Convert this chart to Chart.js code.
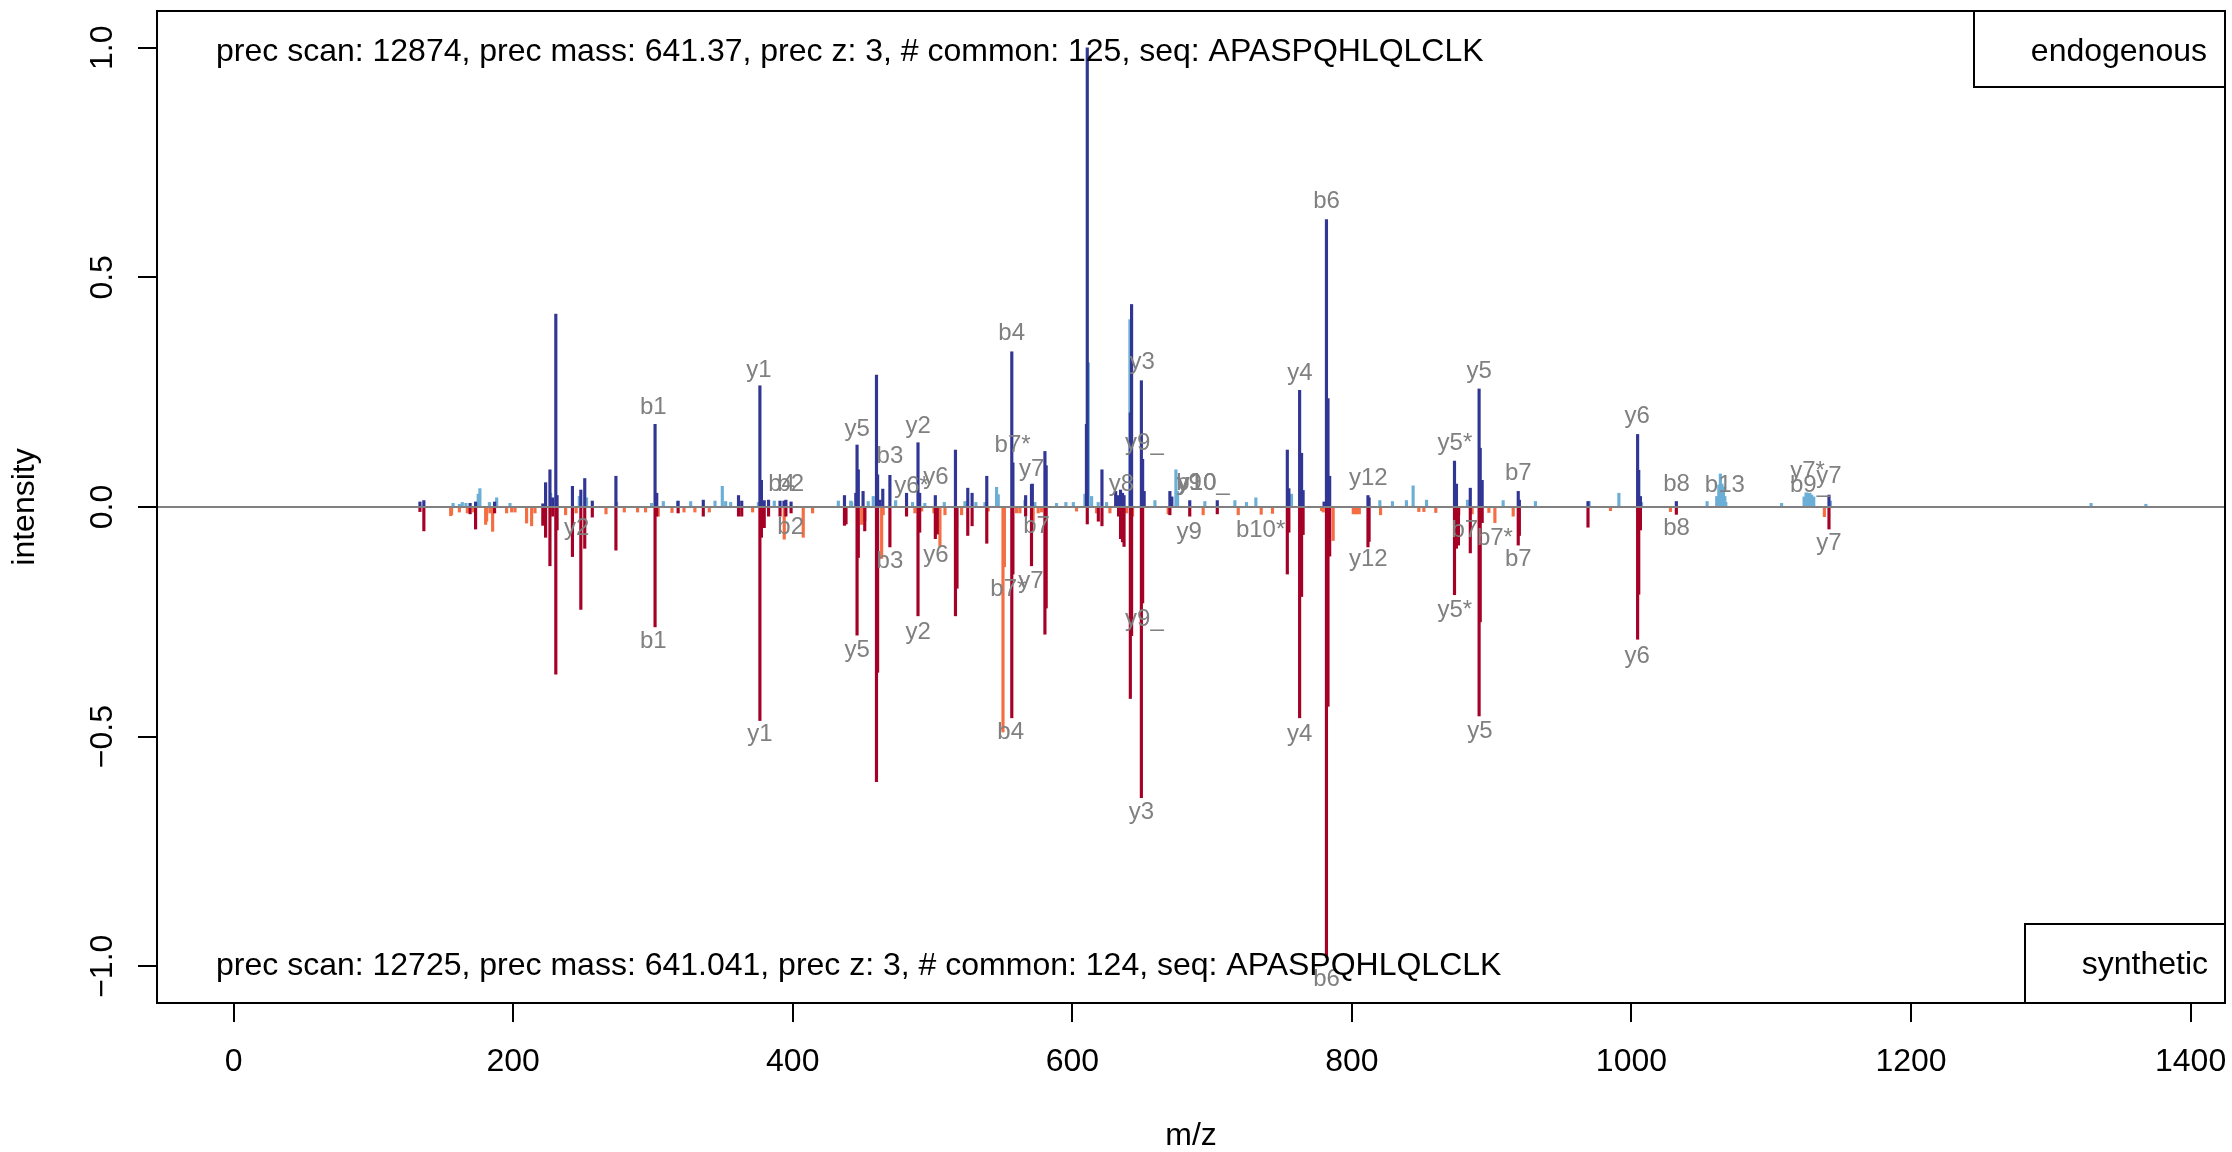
<!DOCTYPE html>
<html>
<head>
<meta charset="utf-8">
<script src="https://cdn.jsdelivr.net/npm/chart.js@4.4.1/dist/chart.umd.min.js"></script>
<style>
  html, body { margin: 0; padding: 0; background: #ffffff; }
  #wrap { width: 2232px; height: 1152px; }
</style>
</head>
<body>
<div id="wrap"><canvas id="c" width="2232" height="1152"></canvas></div>
<script>
// ---------------- data (m/z, relative intensity) ----------------
const endoMatched = [[133.3,0.011],[136.1,0.014],[169.2,0.008],[173.1,0.011],[186.7,0.011],[221.2,0.007],[223.2,0.053],[226.3,0.081],[228.3,0.02],[230.5,0.42],[231.4,0.025],[242.4,0.045],[248.4,0.037],[251.2,0.062],[256.6,0.013],[273.5,0.067],[301.5,0.18],[302.7,0.03],[318.0,0.013],[336.0,0.015],[361.2,0.025],[363.5,0.013],[376.5,0.264],[377.6,0.058],[379.6,0.014],[382.7,0.015],[390.9,0.013],[393.7,0.013],[395.1,0.015],[398.8,0.011],[437.0,0.025],[445.1,0.03],[446.0,0.135],[446.9,0.081],[450.3,0.034],[459.9,0.287],[460.7,0.07],[462.4,0.015],[464.4,0.039],[469.5,0.069],[481.4,0.03],[489.6,0.14],[490.8,0.03],[502.0,0.025],[516.4,0.124],[525.2,0.041],[528.3,0.03],[538.8,0.067],[556.7,0.338],[557.5,0.096],[566.6,0.025],[570.8,0.049],[571.4,0.05],[580.4,0.121],[581.3,0.09],[610.1,0.18],[610.7,1.0],[621.2,0.081],[631.0,0.034],[633.1,0.025],[634.5,0.037],[635.9,0.03],[637.0,0.025],[641.5,0.205],[642.4,0.441],[649.4,0.275],[650.3,0.104],[651.4,0.034],[669.8,0.034],[671.2,0.022],[684.0,0.014],[703.7,0.014],[753.8,0.124],[754.9,0.04],[762.6,0.254],[764.0,0.117],[765.1,0.036],[780.1,0.011],[781.8,0.626],[782.9,0.236],[784.1,0.067],[811.5,0.025],[812.3,0.02],[873.4,0.1],[874.8,0.05],[884.7,0.041],[891.0,0.257],[891.8,0.128],[893.2,0.058],[919.0,0.034],[919.8,0.015],[968.9,0.012],[1004.4,0.158],[1005.2,0.08],[1006.4,0.023],[1032.1,0.012],[1141.3,0.026]];

const endoOther = [[157.0,0.008],[161.5,0.006],[163.6,0.01],[166.2,0.008],[175.0,0.028],[176.2,0.04],[183.0,0.01],[188.2,0.02],[197.7,0.008],[226.8,0.03],[247.3,0.023],[252.5,0.02],[274.0,0.01],[299.0,0.008],[307.4,0.012],[317.6,0.012],[327.0,0.012],[344.4,0.013],[349.6,0.045],[352.0,0.012],[355.6,0.01],[375.4,0.01],[386.8,0.013],[432.6,0.013],[441.5,0.013],[442.1,0.011],[454.0,0.012],[457.6,0.023],[473.6,0.014],[485.7,0.01],[494.5,0.008],[508.4,0.01],[523.2,0.012],[531.0,0.01],[537.5,0.01],[545.8,0.043],[547.0,0.027],[566.1,0.014],[573.2,0.01],[588.7,0.008],[595.4,0.01],[600.7,0.01],[609.0,0.028],[611.4,0.314],[613.8,0.023],[618.5,0.01],[624.5,0.01],[632.8,0.016],[641.2,0.408],[659.1,0.014],[674.1,0.081],[675.3,0.034],[694.8,0.012],[716.3,0.014],[724.6,0.01],[731.3,0.02],[756.8,0.028],[820.0,0.014],[829.0,0.012],[839.0,0.014],[843.8,0.046],[853.4,0.015],[882.7,0.015],[908.2,0.014],[931.3,0.012],[969.7,0.012],[991.0,0.03],[1007.2,0.01],[1054.1,0.012],[1061.0,0.023],[1062.5,0.048],[1063.6,0.072],[1064.7,0.05],[1065.8,0.044],[1066.8,0.023],[1067.5,0.01],[1107.4,0.008],[1123.5,0.022],[1124.9,0.031],[1126.2,0.03],[1127.6,0.03],[1128.9,0.026],[1130.4,0.022],[1142.3,0.013],[1328.8,0.008],[1368.0,0.006]];

const synthMatched = [[133.3,-0.01],[136.1,-0.052],[169.2,-0.015],[173.1,-0.048],[186.7,-0.013],[221.2,-0.04],[223.2,-0.066],[226.3,-0.128],[228.3,-0.02],[230.5,-0.364],[231.4,-0.05],[242.4,-0.108],[248.4,-0.223],[251.2,-0.09],[256.6,-0.022],[273.5,-0.094],[301.5,-0.261],[302.7,-0.02],[318.0,-0.013],[336.0,-0.02],[361.2,-0.02],[363.5,-0.02],[376.5,-0.465],[377.6,-0.066],[379.6,-0.045],[382.7,-0.02],[390.9,-0.02],[395.1,-0.02],[398.8,-0.013],[437.0,-0.04],[438.1,-0.037],[446.0,-0.279],[446.9,-0.11],[451.5,-0.052],[459.9,-0.598],[460.7,-0.36],[469.5,-0.087],[481.4,-0.02],[489.6,-0.237],[490.8,-0.055],[502.0,-0.069],[503.4,-0.059],[516.4,-0.237],[517.5,-0.177],[525.2,-0.062],[528.3,-0.041],[538.8,-0.079],[556.7,-0.459],[557.5,-0.146],[566.6,-0.02],[570.8,-0.128],[580.4,-0.277],[581.3,-0.22],[610.7,-0.037],[618.6,-0.031],[621.2,-0.041],[633.1,-0.02],[634.5,-0.069],[635.9,-0.076],[637.0,-0.086],[641.5,-0.417],[642.4,-0.28],[649.4,-0.633],[650.3,-0.209],[669.8,-0.017],[684.0,-0.02],[703.7,-0.015],[753.8,-0.146],[754.9,-0.055],[762.6,-0.459],[764.0,-0.195],[765.1,-0.06],[781.8,-0.98],[782.9,-0.434],[784.1,-0.107],[811.5,-0.087],[812.3,-0.075],[873.4,-0.191],[874.8,-0.09],[876.2,-0.083],[884.7,-0.1],[891.0,-0.455],[891.8,-0.25],[893.2,-0.034],[919.0,-0.083],[919.8,-0.062],[968.9,-0.044],[1004.4,-0.288],[1005.2,-0.19],[1006.4,-0.05],[1032.1,-0.016],[1141.3,-0.048]];

const synthOther = [[155.3,-0.019],[155.9,-0.017],[161.5,-0.011],[167.2,-0.013],[167.9,-0.008],[171.5,-0.011],[180.3,-0.038],[181.0,-0.031],[183.4,-0.013],[185.3,-0.053],[195.3,-0.013],[198.9,-0.011],[201.3,-0.011],[209.6,-0.035],[213.2,-0.041],[215.6,-0.013],[237.5,-0.017],[245.0,-0.013],[266.4,-0.015],[279.5,-0.011],[289.0,-0.011],[294.7,-0.011],[303.8,-0.02],[313.6,-0.012],[322.2,-0.011],[330.0,-0.011],[340.3,-0.011],[371.3,-0.011],[378.4,-0.031],[393.9,-0.07],[407.5,-0.066],[414.2,-0.013],[449.3,-0.038],[451.6,-0.03],[463.6,-0.112],[464.7,-0.017],[487.4,-0.013],[492.2,-0.009],[501.0,-0.013],[505.3,-0.086],[508.9,-0.017],[517.2,-0.046],[520.8,-0.017],[539.8,-0.009],[550.4,-0.49],[551.4,-0.13],[560.1,-0.013],[562.5,-0.013],[572.0,-0.03],[575.6,-0.013],[578.0,-0.011],[603.0,-0.009],[617.3,-0.013],[626.9,-0.013],[638.8,-0.013],[643.1,-0.02],[668.6,-0.015],[693.6,-0.017],[718.7,-0.017],[735.1,-0.016],[743.2,-0.014],[778.3,-0.008],[779.5,-0.011],[786.6,-0.073],[801.0,-0.015],[802.5,-0.015],[804.0,-0.015],[805.3,-0.015],[820.5,-0.017],[847.9,-0.01],[851.5,-0.01],[860.0,-0.012],[876.5,-0.017],[886.0,-0.015],[898.0,-0.012],[902.3,-0.034],[915.4,-0.02],[985.0,-0.008],[1027.9,-0.01],[1138.0,-0.021]];

// fragment labels: [text, m/z of label centre, intensity of label centre]
const peakLabels = [["b1",300.2,0.217],["y1",375.8,0.298],["b4",392.0,0.050],["b2",398.5,0.050],["y5",446.1,0.170],["b3",469.5,0.110],["y2",489.8,0.175],["y6*",485.0,0.044],["y6",502.4,0.065],["b4",556.6,0.377],["b7*",557.3,0.134],["y7",570.9,0.083],["y8",635.2,0.050],["y3",650.0,0.315],["y9_",651.6,0.139],["y9",683.6,0.052],["y10",689.3,0.052],["b10_",693.5,0.052],["y4",762.8,0.290],["b6",781.9,0.665],["y12",811.7,0.0625],["y5*",873.7,0.139],["y5",891.1,0.295],["b7",919.0,0.073],["y6",1004.1,0.197],["b8",1032.3,0.049],["b13",1066.8,0.048],["y7*",1126.0,0.077],["b9_",1127.7,0.048],["y7",1141.3,0.066],
["y2",245.4,-0.046],["b1",300.2,-0.293],["y1",376.5,-0.496],["b2",398.5,-0.045],["y5",446.1,-0.313],["b3",469.5,-0.119],["y6",502.4,-0.105],["y2",489.8,-0.273],["b7*",554.2,-0.179],["b4",555.9,-0.49],["y7",570.4,-0.161],["b7",574.4,-0.043],["y9_",651.6,-0.245],["y3",649.5,-0.666],["y9",683.6,-0.056],["b10*",734.7,-0.050],["y4",762.6,-0.496],["b6",781.9,-1.029],["y12",811.7,-0.115],["y5*",873.6,-0.226],["b7",880.8,-0.050],["b7*",902.3,-0.068],["b7",919.0,-0.115],["y5",891.6,-0.489],["y6",1004.0,-0.325],["b8",1032.3,-0.046],["y7",1141.3,-0.079]];

const xTicks = [0, 200, 400, 600, 800, 1000, 1200, 1400];
const xTickLabels = ["0", "200", "400", "600", "800", "1000", "1200", "1400"];
const yTicks = [-1, -0.5, 0, 0.5, 1];
const yTickLabels = ["\u22121.0", "\u22120.5", "0.0", "0.5", "1.0"];
const topText = "prec scan: 12874, prec mass: 641.37, prec z: 3, # common: 125, seq: APASPQHLQLCLK";
const bottomText = "prec scan: 12725, prec mass: 641.041, prec z: 3, # common: 124, seq: APASPQHLQLCLK";
const topLegend = "endogenous";
const bottomLegend = "synthetic";
const xTitle = "m/z";
const yTitle = "intensity";

// ---------------- chart ----------------
const FONT = '"Liberation Sans", Arial, Helvetica, sans-serif';
const toPts = arr => arr.map(p => ({ x: p[0], y: p[1] }));

const decor = {
  id: 'decor',
  afterDatasetsDraw(chart) {
    const ctx = chart.ctx, a = chart.chartArea;
    const xs = chart.scales.x, ys = chart.scales.y;
    ctx.save();
    // zero line
    ctx.strokeStyle = '#808080';
    ctx.lineWidth = 2;
    const y0 = ys.getPixelForValue(0);
    ctx.beginPath(); ctx.moveTo(a.left, y0); ctx.lineTo(a.right, y0); ctx.stroke();
    // peak labels
    ctx.fillStyle = '#808080';
    ctx.font = '24px ' + FONT;
    ctx.textAlign = 'center';
    ctx.textBaseline = 'middle';
    peakLabels.forEach(l => {
      ctx.fillText(l[0], xs.getPixelForValue(l[1]), ys.getPixelForValue(l[2]));
    });
    ctx.restore();
  },
  afterDraw(chart) {
    const ctx = chart.ctx, a = chart.chartArea;
    const xs = chart.scales.x, ys = chart.scales.y;
    ctx.save();
    ctx.fillStyle = '#000';
    ctx.strokeStyle = '#000';
    ctx.lineWidth = 2;
    // frame
    ctx.strokeRect(a.left, a.top, a.right - a.left, a.bottom - a.top);
    // header texts
    ctx.font = '32px ' + FONT;
    ctx.textBaseline = 'alphabetic';
    ctx.textAlign = 'left';
    ctx.fillText(topText, a.left + 59, a.top + 50);
    ctx.fillText(bottomText, a.left + 59, a.bottom - 28);
    // legend boxes
    ctx.strokeRect(a.right - 251, a.top, 251, 76);
    ctx.strokeRect(a.right - 200, a.bottom - 79, 200, 79);
    ctx.textAlign = 'right';
    ctx.fillText(topLegend, a.right - 18, a.top + 50);
    ctx.fillText(bottomLegend, a.right - 17, a.bottom - 29);
    // x tick labels
    ctx.textAlign = 'center';
    xTicks.forEach((v, i) => ctx.fillText(xTickLabels[i], xs.getPixelForValue(v), a.bottom + 68));
    // x title
    ctx.fillText(xTitle, (a.left + a.right) / 2, a.bottom + 142);
    // y tick labels (rotated)
    yTicks.forEach((v, i) => {
      ctx.save();
      ctx.translate(a.left - 45, ys.getPixelForValue(v));
      ctx.rotate(-Math.PI / 2);
      ctx.fillText(yTickLabels[i], 0, 0);
      ctx.restore();
    });
    // y title
    ctx.save();
    ctx.translate(34, (a.top + a.bottom) / 2);
    ctx.rotate(-Math.PI / 2);
    ctx.fillText(yTitle, 0, 0);
    ctx.restore();
    ctx.restore();
  }
};

const barDs = (label, pts, color) => ({
  label, data: toPts(pts), backgroundColor: color, borderWidth: 0,
  barThickness: 2.5, grouped: false
});

new Chart(document.getElementById('c'), {
  type: 'bar',
  data: {
    datasets: [
      barDs('endogenous matched', endoMatched, '#313695'),
      barDs('synthetic matched', synthMatched, '#a50026'),
      barDs('endogenous other', endoOther, '#6baed6'),
      barDs('synthetic other', synthOther, '#f46d43')
    ]
  },
  options: {
    responsive: false,
    animation: false,
    devicePixelRatio: 1,
    layout: { padding: { top: 11, right: 7, left: 0, bottom: 0 } },
    plugins: { legend: { display: false }, tooltip: { enabled: false } },
    scales: {
      x: {
        type: 'linear', min: -54.8, max: 1424.6, offset: false,
        afterBuildTicks: s => { s.ticks = xTicks.map(v => ({ value: v })); },
        afterFit: s => { s.height = 149; },
        ticks: { display: false },
        grid: { offset: false, drawOnChartArea: false, drawTicks: true, tickLength: 19, color: '#000', lineWidth: 2 },
        border: { display: false }
      },
      y: {
        type: 'linear', min: -1.08, max: 1.08,
        afterBuildTicks: s => { s.ticks = yTicks.map(v => ({ value: v })); },
        afterFit: s => { s.width = 157; },
        ticks: { display: false },
        grid: { offset: false, drawOnChartArea: false, drawTicks: true, tickLength: 19, color: '#000', lineWidth: 2 },
        border: { display: false }
      }
    }
  },
  plugins: [decor]
});
</script>
</body>
</html>
